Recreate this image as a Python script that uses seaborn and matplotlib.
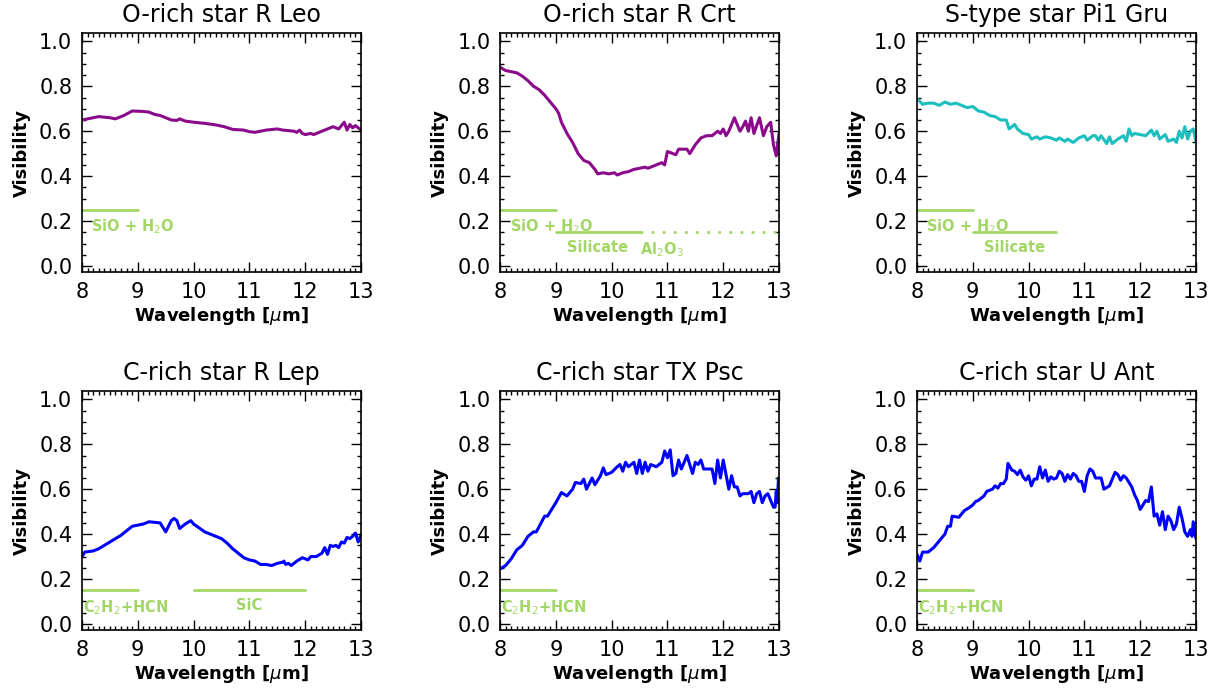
import numpy as np
import pandas as pd
import matplotlib
matplotlib.use("Agg")
import matplotlib.pyplot as plt
from matplotlib.ticker import MultipleLocator
import seaborn as sns

sns.set_style("ticks")
plt.rcParams['font.family'] = ['DejaVu Sans']
plt.rcParams['text.color'] = 'black'
plt.rcParams['axes.labelcolor'] = 'black'
plt.rcParams['xtick.color'] = 'black'
plt.rcParams['ytick.color'] = 'black'
plt.rcParams['axes.edgecolor'] = 'black'

# R Leo (O-rich)
rleo_wl = [8.0, 8.1, 8.3, 8.5, 8.6, 8.75, 8.9, 9.1, 9.2, 9.3, 9.4, 9.5, 9.6, 9.7, 9.75,
           9.85, 10.0, 10.2, 10.4, 10.55, 10.7, 10.9, 11.0, 11.1, 11.2, 11.3, 11.5, 11.6,
           11.8, 11.85, 11.9, 11.95, 12.0, 12.1, 12.15, 12.25, 12.4, 12.5, 12.6, 12.7,
           12.75, 12.8, 12.85, 12.9, 13.0]
rleo_vis = [0.65, 0.655, 0.665, 0.66, 0.655, 0.67, 0.69, 0.688, 0.685, 0.675, 0.67, 0.66,
            0.65, 0.648, 0.655, 0.645, 0.64, 0.635, 0.628, 0.62, 0.608, 0.605, 0.598, 0.595,
            0.6, 0.605, 0.61, 0.605, 0.6, 0.595, 0.605, 0.59, 0.585, 0.59, 0.585, 0.595,
            0.61, 0.62, 0.61, 0.64, 0.605, 0.63, 0.615, 0.625, 0.605]

# R Crt (O-rich)
rcrt_wl = [8.0, 8.1, 8.2, 8.3, 8.4, 8.5, 8.6, 8.7, 8.8, 8.9, 9.0, 9.05, 9.1, 9.2, 9.3, 9.4,
           9.5, 9.6, 9.7, 9.75, 9.85, 9.95, 10.05, 10.1, 10.2, 10.3, 10.4, 10.5, 10.6, 10.65,
           10.8, 10.9, 10.95, 11.0, 11.1, 11.15, 11.2, 11.35, 11.4, 11.5, 11.6, 11.7, 11.8,
           11.85, 11.9, 11.95, 12.0, 12.05, 12.1, 12.2, 12.3, 12.35, 12.4, 12.45, 12.5, 12.55,
           12.65, 12.72, 12.78, 12.85, 12.9, 12.95, 13.0]
rcrt_vis = [0.885, 0.87, 0.865, 0.86, 0.845, 0.825, 0.8, 0.785, 0.76, 0.73, 0.70, 0.68,
            0.64, 0.59, 0.55, 0.5, 0.47, 0.46, 0.43, 0.41, 0.415, 0.41, 0.415, 0.405, 0.415,
            0.42, 0.43, 0.435, 0.44, 0.435, 0.45, 0.46, 0.45, 0.51, 0.5, 0.495, 0.52, 0.52,
            0.5, 0.54, 0.57, 0.58, 0.58, 0.59, 0.6, 0.59, 0.61, 0.58, 0.6, 0.66, 0.6, 0.62,
            0.645, 0.6, 0.66, 0.59, 0.66, 0.58, 0.62, 0.64, 0.54, 0.49, 0.59]

# Pi1 Gru (S-type)
pigru_wl = [8.0, 8.1, 8.2, 8.3, 8.4, 8.5, 8.6, 8.7, 8.8, 8.9, 9.0, 9.1, 9.2, 9.3, 9.4, 9.5,
            9.6, 9.65, 9.75, 9.8, 9.9, 10.0, 10.05, 10.15, 10.2, 10.3, 10.4, 10.5, 10.55,
            10.65, 10.7, 10.8, 10.9, 11.0, 11.05, 11.15, 11.2, 11.25, 11.3, 11.4, 11.45, 11.5,
            11.6, 11.7, 11.75, 11.8, 11.85, 11.9, 12.0, 12.1, 12.2, 12.25, 12.3, 12.35, 12.45,
            12.5, 12.6, 12.65, 12.7, 12.75, 12.8, 12.85, 12.9, 12.95, 13.0]
pigru_vis = [0.745, 0.72, 0.725, 0.725, 0.715, 0.73, 0.72, 0.725, 0.715, 0.705, 0.71, 0.69,
             0.685, 0.67, 0.665, 0.65, 0.65, 0.61, 0.63, 0.61, 0.59, 0.585, 0.565, 0.575,
             0.565, 0.575, 0.57, 0.56, 0.57, 0.555, 0.565, 0.55, 0.57, 0.58, 0.56, 0.58, 0.58,
             0.56, 0.58, 0.545, 0.575, 0.545, 0.565, 0.58, 0.555, 0.61, 0.58, 0.59, 0.585,
             0.58, 0.605, 0.58, 0.6, 0.565, 0.585, 0.555, 0.565, 0.55, 0.6, 0.57, 0.62, 0.565,
             0.6, 0.61, 0.555]

# R Lep (C-rich)
rlep_wl = [8.0, 8.05, 8.2, 8.3, 8.5, 8.7, 8.9, 9.0, 9.1, 9.2, 9.4, 9.5, 9.6, 9.65, 9.7, 9.75,
           9.85, 9.95, 10.0, 10.2, 10.4, 10.5, 10.6, 10.7, 10.8, 10.9, 11.0, 11.1, 11.2, 11.3,
           11.4, 11.5, 11.6, 11.62, 11.65, 11.7, 11.75, 11.85, 11.95, 12.0, 12.05, 12.1, 12.2,
           12.3, 12.35, 12.4, 12.45, 12.5, 12.55, 12.6, 12.65, 12.7, 12.75, 12.8, 12.85, 12.9,
           12.95, 13.0]
rlep_vis = [0.30, 0.32, 0.325, 0.335, 0.365, 0.395, 0.435, 0.44, 0.445, 0.455, 0.45, 0.41,
            0.46, 0.47, 0.46, 0.425, 0.445, 0.46, 0.445, 0.41, 0.39, 0.38, 0.36, 0.335, 0.315,
            0.295, 0.285, 0.28, 0.265, 0.265, 0.26, 0.27, 0.275, 0.28, 0.265, 0.27, 0.26, 0.28,
            0.295, 0.29, 0.285, 0.3, 0.3, 0.315, 0.34, 0.31, 0.35, 0.345, 0.35, 0.34, 0.365,
            0.36, 0.385, 0.38, 0.39, 0.405, 0.365, 0.395]

# TX Psc (C-rich)
txpsc_wl = [8.0, 8.1, 8.2, 8.3, 8.4, 8.5, 8.6, 8.65, 8.8, 8.85, 8.9, 9.0, 9.1, 9.2, 9.3, 9.35,
            9.45, 9.5, 9.55, 9.65, 9.7, 9.8, 9.85, 9.9, 10.0, 10.1, 10.15, 10.2, 10.25, 10.3,
            10.4, 10.45, 10.5, 10.55, 10.6, 10.65, 10.7, 10.8, 10.9, 10.95, 11.0, 11.05, 11.1,
            11.15, 11.2, 11.25, 11.35, 11.45, 11.5, 11.55, 11.6, 11.65, 11.8, 11.85, 11.9,
            11.95, 12.0, 12.1, 12.15, 12.2, 12.25, 12.3, 12.35, 12.45, 12.5, 12.55, 12.6, 12.65,
            12.7, 12.75, 12.8, 12.9, 12.93, 12.95, 12.97, 12.99, 13.0]
txpsc_vis = [0.245, 0.26, 0.29, 0.33, 0.35, 0.39, 0.41, 0.41, 0.48, 0.48, 0.5, 0.54, 0.585,
             0.57, 0.6, 0.63, 0.625, 0.645, 0.6, 0.65, 0.62, 0.66, 0.695, 0.665, 0.675, 0.7,
             0.71, 0.68, 0.72, 0.7, 0.72, 0.67, 0.73, 0.67, 0.72, 0.68, 0.71, 0.7, 0.72, 0.77,
             0.74, 0.775, 0.66, 0.67, 0.73, 0.69, 0.75, 0.67, 0.72, 0.71, 0.73, 0.69, 0.69,
             0.625, 0.73, 0.65, 0.73, 0.6, 0.66, 0.61, 0.61, 0.57, 0.58, 0.58, 0.59, 0.54, 0.58,
             0.59, 0.54, 0.57, 0.58, 0.52, 0.52, 0.59, 0.54, 0.65, 0.63]

# U Ant (C-rich)
uant_wl = [8.0, 8.05, 8.1, 8.2, 8.3, 8.4, 8.5, 8.55, 8.6, 8.63, 8.75, 8.85, 8.95, 9.0, 9.05,
           9.1, 9.2, 9.25, 9.35, 9.4, 9.45, 9.5, 9.55, 9.6, 9.63, 9.7, 9.75, 9.8, 9.85, 9.9,
           9.95, 10.0, 10.05, 10.1, 10.15, 10.2, 10.25, 10.3, 10.35, 10.4, 10.45, 10.5, 10.55,
           10.6, 10.65, 10.7, 10.75, 10.8, 10.85, 10.9, 10.95, 11.0, 11.05, 11.1, 11.15, 11.2,
           11.3, 11.35, 11.45, 11.55, 11.6, 11.65, 11.7, 11.75, 11.85, 11.9, 11.95, 12.0,
           12.05, 12.1, 12.15, 12.2, 12.25, 12.3, 12.35, 12.4, 12.45, 12.5, 12.55, 12.6, 12.65,
           12.7, 12.75, 12.8, 12.85, 12.9, 12.93, 12.95, 13.0]
uant_vis = [0.31, 0.28, 0.32, 0.32, 0.34, 0.37, 0.40, 0.435, 0.435, 0.48, 0.475, 0.505, 0.52,
            0.53, 0.545, 0.55, 0.57, 0.59, 0.60, 0.615, 0.605, 0.625, 0.625, 0.645, 0.715,
            0.685, 0.68, 0.665, 0.685, 0.655, 0.64, 0.66, 0.615, 0.645, 0.645, 0.70, 0.65,
            0.685, 0.635, 0.655, 0.645, 0.65, 0.68, 0.67, 0.635, 0.665, 0.645, 0.67, 0.66,
            0.635, 0.635, 0.59, 0.66, 0.69, 0.68, 0.65, 0.65, 0.60, 0.615, 0.675, 0.665, 0.64,
            0.66, 0.65, 0.61, 0.575, 0.55, 0.51, 0.53, 0.55, 0.545, 0.61, 0.48, 0.49, 0.44,
            0.50, 0.42, 0.48, 0.46, 0.42, 0.445, 0.52, 0.47, 0.41, 0.39, 0.42, 0.39, 0.455, 0.38]

titles = ["O-rich star R Leo", "O-rich star R Crt", "S-type star Pi1 Gru",
          "C-rich star R Lep", "C-rich star TX Psc", "C-rich star U Ant"]
series = [(rleo_wl, rleo_vis), (rcrt_wl, rcrt_vis), (pigru_wl, pigru_vis),
          (rlep_wl, rlep_vis), (txpsc_wl, txpsc_vis), (uant_wl, uant_vis)]
colors = ["#8b0a8b", "#8b0a8b", "#1cbfbf", "#0000ff", "#0000ff", "#0000ff"]

# feature bands: (start, end, level, label, label_x, ha, dotted)
sio_band = (8.0, 9.0, 0.25, "SiO + H$_2$O", 8.17, "left", False)
sil_band = (9.0, 10.5, 0.15, "Silicate", 9.75, "center", False)
al_band = (10.5, 13.0, 0.15, "Al$_2$O$_3$", 10.9, "center", True)
c2h2_band = (8.0, 9.0, 0.15, "C$_2$H$_2$+HCN", 8.02, "left", False)
sic_band = (10.0, 12.0, 0.15, "SiC", 11.0, "center", False)
bands = [[sio_band], [sio_band, sil_band, al_band], [sio_band, sil_band],
         [c2h2_band, sic_band], [c2h2_band], [c2h2_band]]

green = "#a3d765"

fig = plt.figure(figsize=(12.22, 6.95), dpi=100)
lefts = [0.0671, 0.4092, 0.7504]
bottoms = [0.6086, 0.0935]
w, h = 0.2283, 0.3435

for i in range(6):
    ax = fig.add_axes([lefts[i % 3], bottoms[i // 3], w, h])
    wl, vis = series[i]
    df = pd.DataFrame({"wl": wl, "vis": vis})
    sns.lineplot(data=df, x="wl", y="vis", ax=ax, color=colors[i], linewidth=2.2)

    for (x0, x1, lev, lab, lx, ha, dotted) in bands[i]:
        ax.plot([x0, x1], [lev, lev], color=green, linewidth=2.0,
                linestyle=(0, (1, 3)) if dotted else "-")
        ax.text(lx, lev - 0.035, lab, color=green, fontsize=10.5, fontweight="bold",
                ha=ha, va="top")

    ax.set_xlim(8, 13)
    ax.set_ylim(-0.027, 1.036)
    ax.set_xticks([8, 9, 10, 11, 12, 13])
    ax.set_yticks([0.0, 0.2, 0.4, 0.6, 0.8, 1.0])
    ax.set_yticklabels(["0.0", "0.2", "0.4", "0.6", "0.8", "1.0"])
    ax.xaxis.set_minor_locator(MultipleLocator(0.1))
    ax.yaxis.set_minor_locator(MultipleLocator(0.05))
    ax.tick_params(which="both", direction="in", top=True, right=True, width=1,
                   color="black")
    ax.tick_params(which="major", length=7, labelsize=15, pad=7)
    ax.tick_params(which="minor", length=3)
    for sp in ax.spines.values():
        sp.set_linewidth(1.2)
        sp.set_color("black")
    ax.set_xlabel("Wavelength [$\\mu$m]", fontsize=13, fontweight="bold", labelpad=2)
    ax.set_ylabel("Visibility", fontsize=13, fontweight="bold", labelpad=6)
    ax.set_title(titles[i], fontsize=17, pad=8)

fig.savefig("out.png", dpi=100)
